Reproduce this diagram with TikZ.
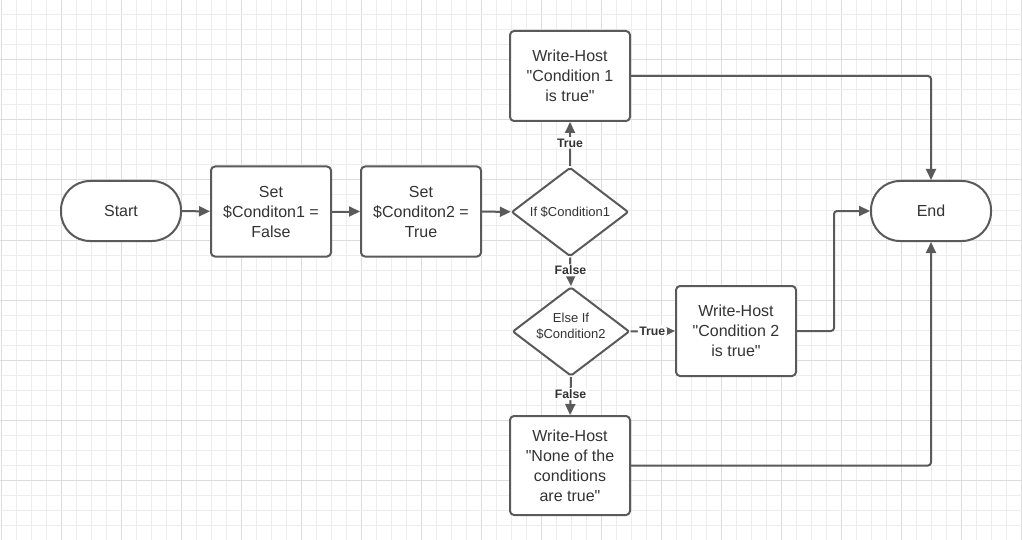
\documentclass[tikz,border=0pt]{standalone}
\usepackage{fontspec}
\setmainfont{Liberation Sans}[Ligatures=TeXOff]
\usetikzlibrary{shapes.geometric,arrows.meta,calc}
\definecolor{ink}{HTML}{5A5A5A}
\definecolor{txt}{HTML}{333333}
\definecolor{gridminor}{HTML}{EDEDED}
\definecolor{gridmajor}{HTML}{DCDCDC}
\tikzset{
  shapeline/.style={draw=ink, line width=2pt, fill=white, text=txt, line join=round},
  terminal/.style={shapeline, rectangle, rounded corners=29pt, minimum width=120pt, minimum height=60pt, inner sep=0pt,
    font=\fontsize{16}{20}\selectfont},
  procbox/.style={shapeline, rectangle, rounded corners=4pt, minimum width=120pt, minimum height=90pt, inner sep=0pt,
    align=center, font=\fontsize{16}{20}\selectfont},
  decision/.style={shapeline, diamond, rounded corners=2pt, inner sep=0pt, minimum width=117pt, minimum height=89pt},
  dtext/.style={text=txt, align=center, font=\fontsize{13}{15.5}\selectfont},
  conn/.style={draw=ink, line width=2pt, rounded corners=3pt, -{Triangle[length=11pt,width=10pt]}},
  lbl/.style={fill=white, text=txt, inner sep=1.5pt, font=\bfseries\fontsize{12.3}{14}\selectfont},
}
\begin{document}
\begin{tikzpicture}[x=1pt, y=-1pt]
  \useasboundingbox (0,0) rectangle (1022,540);
  \fill[white] (0,0) rectangle (1022,540);
  % background grid: fine lines every 15, heavier every 60
  \foreach \i in {0,...,68} {
    \pgfmathtruncatemacro{\m}{mod(\i,4)}
    \ifnum\m=0 \def\gc{gridmajor}\else\def\gc{gridminor}\fi
    \draw[\gc, line width=1pt] ({1+15*\i},0) -- ({1+15*\i},540);
  }
  \foreach \j in {0,...,36} {
    \pgfmathtruncatemacro{\m}{mod(\j,4)}
    \ifnum\m=0 \def\gc{gridmajor}\else\def\gc{gridminor}\fi
    \draw[\gc, line width=1pt] (0,{15*\j}) -- (1022,{15*\j});
  }

  % shapes
  \node[terminal] (start) at (121,211) {Start};
  \node[procbox] (set1) at (271,211.5) {Set\\\$Conditon1 =\\False};
  \node[procbox] (set2) at (421,211.5) {Set\\\$Conditon2 =\\True};
  \node[decision] (d1) at (570,212) {};
  \node[dtext] (d1t) at (d1.center) {If \$Condition1};
  \node[procbox] (wh1) at (570,76) {Write-Host\\"Condition 1\\is true"};
  \node[decision] (d2) at (571,331.5) {};
  \node[dtext] (d2t) at (571,326) {Else If\\\$Condition2};
  \node[procbox] (wh2) at (736,331) {Write-Host\\"Condition 2\\is true"};
  \node[procbox, minimum height=99pt] (wh3) at (570,465.5) {Write-Host\\"None of the\\conditions\\are true"};
  \node[terminal] (end) at (931,211) {End};

  % connectors
  \draw[conn] (start) -- (set1);
  \draw[conn] (set1) -- (set2);
  \draw[conn] (set2) -- (d1);
  \draw[conn] (d1.north) -- (wh1.south) node[lbl, pos=0.53] {True};
  \draw[conn] (d1.south) -- (d2.north) node[lbl, pos=0.45] {False};
  \draw[conn] (d2.east) -- (wh2.west) node[lbl, pos=0.49] {True};
  \draw[conn] (d2.south) -- (wh3.north) node[lbl, pos=0.45] {False};
  \draw[conn] (wh1.east) -| (end.north);
  \coordinate (jog) at ($(wh2.east)+(37,0)$);
  \draw[conn] (wh2.east) -- (jog) |- (end.west);
  \draw[conn] (wh3.east) -| (end.south);
\end{tikzpicture}
\end{document}
